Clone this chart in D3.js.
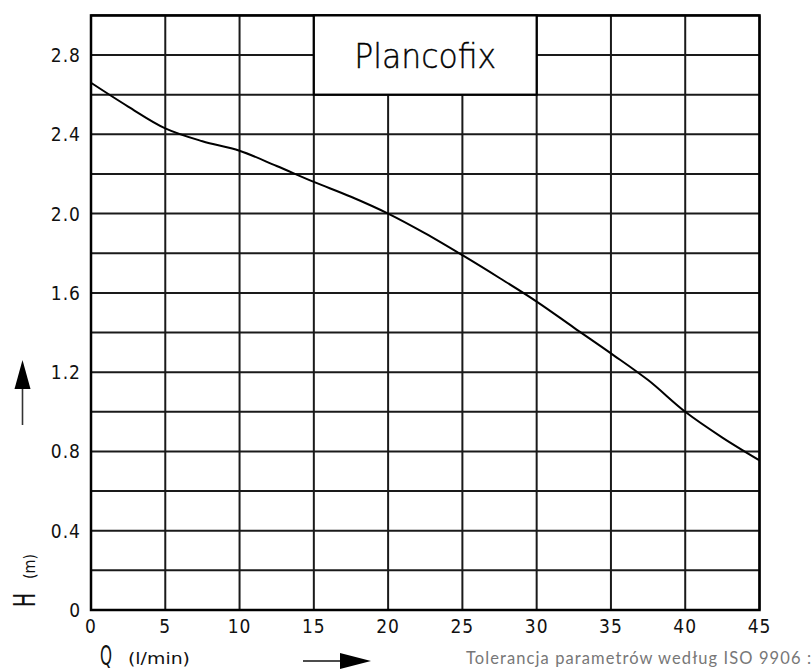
<!DOCTYPE html>
<html>
<head>
<meta charset="utf-8">
<script src="https://cdn.jsdelivr.net/npm/d3@7"></script>
<style>
  body { margin: 0; background: #fff; }
  svg { display: block; }
  .tick-label { font-family: "DejaVu Sans Condensed", "DejaVu Sans", sans-serif; font-size: 19px; fill: #111; letter-spacing: 1px; }
</style>
</head>
<body>
<svg id="chart" width="812" height="672"></svg>
<script>
// pump curve H(Q)
var flow = [0, 2.5, 5, 7.5, 10, 12.5, 15, 17.5, 20, 22.5, 25, 27.5, 30, 32.5, 35, 37.5, 40, 42.5, 45];
var head = [2.66, 2.54, 2.43, 2.365, 2.317, 2.24, 2.16, 2.085, 2.0, 1.9, 1.79, 1.675, 1.556, 1.425, 1.295, 1.16, 1.0, 0.87, 0.755];
var xTicks = [0, 5, 10, 15, 20, 25, 30, 35, 40, 45];
var yTicks = [0, 0.4, 0.8, 1.2, 1.6, 2.0, 2.4, 2.8];
var yGrid = d3.range(0, 3.01, 0.2);
var title = "Plancofix";
var note = "Tolerancja parametrów według ISO 9906 :";

var margin = { top: 15.4, right: 52.5, bottom: 62, left: 91 },
	width = 812 - margin.left - margin.right,
	height = 672 - margin.top - margin.bottom;

var svg = d3.select("#chart");
var g = svg.append("g").attr("transform", "translate(" + margin.left + "," + margin.top + ")");

var x = d3.scaleLinear().domain([0, 45]).range([0, width]);
var y = d3.scaleLinear().domain([0, 3.0]).range([height, 0]);

// grid
g.append("g").selectAll("line").data(yGrid).enter().append("line")
	.attr("x1", 0).attr("x2", width)
	.attr("y1", function(d) { return y(d); }).attr("y2", function(d) { return y(d); })
	.attr("stroke", "#1a1a1a").attr("stroke-width", 2);
g.append("g").selectAll("line").data(xTicks).enter().append("line")
	.attr("y1", 0).attr("y2", height)
	.attr("x1", function(d) { return x(d); }).attr("x2", function(d) { return x(d); })
	.attr("stroke", "#1a1a1a").attr("stroke-width", 2);

// frame
g.append("rect").attr("x", 0).attr("y", 0).attr("width", width).attr("height", height)
	.attr("fill", "none").attr("stroke", "#000").attr("stroke-width", 2.5);

// title box
g.append("rect")
	.attr("x", x(15)).attr("y", y(3.0))
	.attr("width", x(30) - x(15)).attr("height", y(2.6) - y(3.0))
	.attr("fill", "#fff").attr("stroke", "#000").attr("stroke-width", 2.2);
g.append("text")
	.attr("x", (x(15) + x(30)) / 2 - 71).attr("y", y(2.8) + 13)
	.attr("textLength", 142).attr("lengthAdjust", "spacingAndGlyphs")
	.style("font-family", "\"DejaVu Sans\", sans-serif")
	.style("font-size", "34px").style("font-weight", 200)
	.attr("fill", "#000")
	.attr("stroke", "#000").attr("stroke-width", 0.4)
	.text(title);

// curve
var line = d3.line()
	.x(function(d) { return x(d[0]); })
	.y(function(d) { return y(d[1]); })
	.curve(d3.curveCatmullRom);
g.append("path").datum(d3.zip(flow, head))
	.attr("d", line)
	.attr("fill", "none").attr("stroke", "#000").attr("stroke-width", 2);

// tick labels
g.append("g").selectAll("text").data(xTicks).enter().append("text")
	.attr("class", "tick-label")
	.attr("x", function(d) { return x(d); }).attr("y", height + 23)
	.attr("text-anchor", "middle")
	.text(function(d) { return d; });
g.append("g").selectAll("text").data(yTicks).enter().append("text")
	.attr("class", "tick-label")
	.attr("x", -10).attr("y", function(d) { return y(d) + 7; })
	.attr("text-anchor", "end")
	.text(function(d) { return d === 0 ? "0" : d.toFixed(1); });

// axis titles
svg.append("text").attr("x", 100).attr("y", 665)
	.attr("textLength", 12).attr("lengthAdjust", "spacingAndGlyphs")
	.style("font-family", "\"DejaVu Sans Condensed\", sans-serif").style("font-size", "27px")
	.attr("fill", "#111").text("Q");
svg.append("text").attr("x", 128).attr("y", 664)
	.attr("textLength", 62).attr("lengthAdjust", "spacingAndGlyphs")
	.style("font-family", "\"DejaVu Sans Condensed\", sans-serif").style("font-size", "15px")
	.attr("fill", "#111").text("(l/min)");

svg.append("text").attr("transform", "translate(35,607) rotate(-90)")
	.attr("textLength", 14).attr("lengthAdjust", "spacingAndGlyphs")
	.style("font-family", "\"DejaVu Sans Condensed\", sans-serif").style("font-size", "31px")
	.attr("fill", "#111").text("H");
svg.append("text").attr("transform", "translate(35,579) rotate(-90)")
	.attr("textLength", 25).attr("lengthAdjust", "spacingAndGlyphs")
	.style("font-family", "\"DejaVu Sans Condensed\", sans-serif").style("font-size", "16px")
	.attr("fill", "#111").text("(m)");

// arrows
svg.append("line").attr("x1", 303).attr("x2", 342).attr("y1", 661).attr("y2", 661)
	.attr("stroke", "#111").attr("stroke-width", 1.6);
svg.append("path").attr("d", "M340,653 L371,661 L340,669 Z").attr("fill", "#000");
svg.append("line").attr("x1", 22.5).attr("x2", 22.5).attr("y1", 425).attr("y2", 386)
	.attr("stroke", "#333").attr("stroke-width", 1.6);
svg.append("path").attr("d", "M14.5,389 L22.5,360 L30.5,389 Z").attr("fill", "#000");

// tolerance note
svg.append("text").attr("x", 466).attr("y", 664)
	.attr("textLength", 345).attr("lengthAdjust", "spacing")
	.style("font-family", "Lato, sans-serif").style("font-size", "16.5px")
	.attr("fill", "#777")
	.text(note);
</script>
</body>
</html>
